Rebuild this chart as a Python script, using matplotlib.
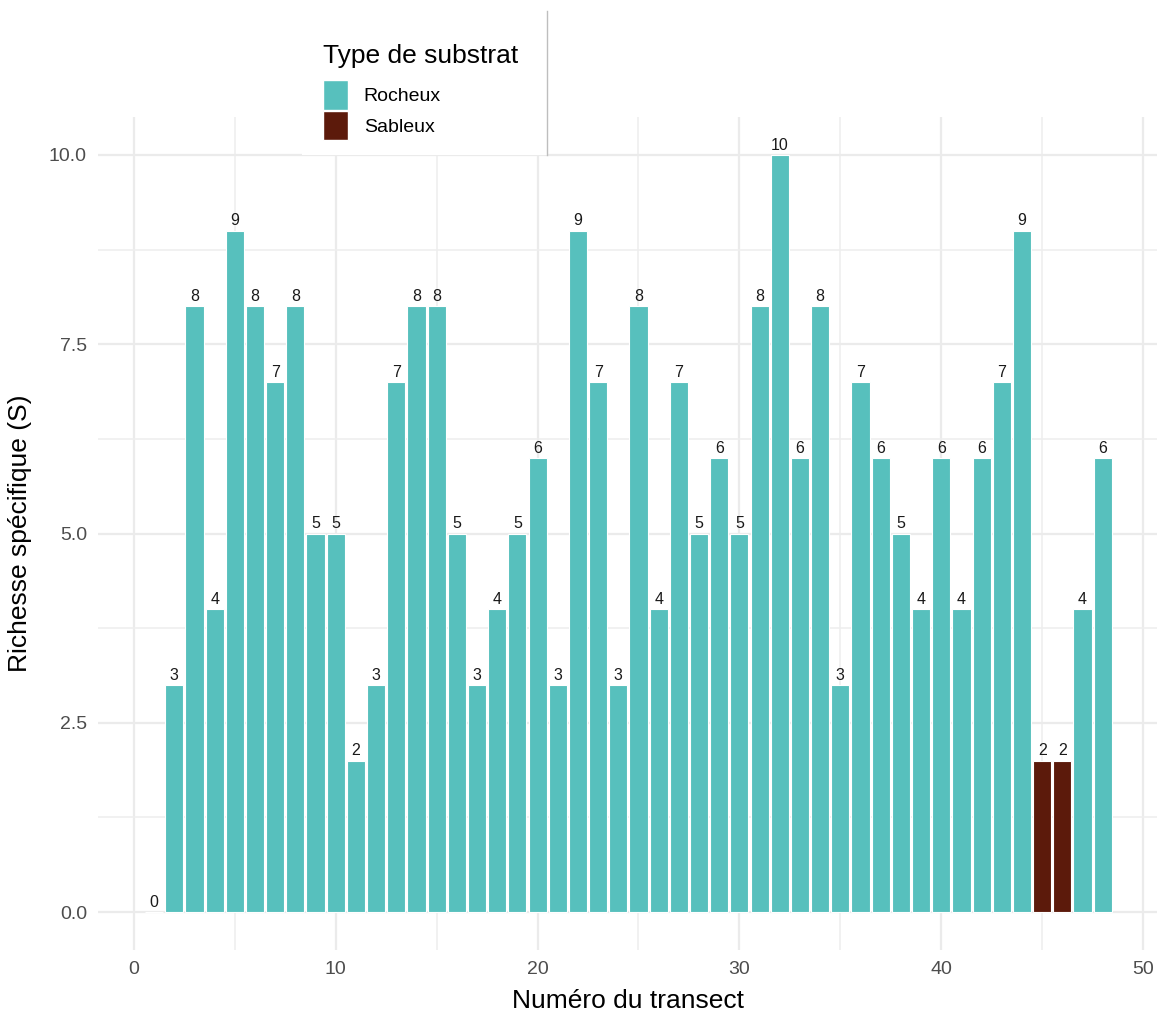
import numpy as np
import matplotlib
matplotlib.use('Agg')
import matplotlib.pyplot as plt
from matplotlib.patches import Patch, Rectangle
from matplotlib.lines import Line2D

plt.rcParams['font.family'] = ['Liberation Sans', 'DejaVu Sans']

transect = list(range(1, 49))
richesse = [0, 3, 8, 4, 9, 8, 7, 8, 5, 5,
            2, 3, 7, 8, 8, 5, 3, 4, 5, 6,
            3, 9, 7, 3, 8, 4, 7, 5, 6, 5,
            8, 10, 6, 8, 3, 7, 6, 5, 4, 6,
            4, 6, 7, 9, 2, 2, 4, 6]
substrat = ['Rocheux'] * 44 + ['Sableux'] * 2 + ['Rocheux'] * 2

couleurs = {'Rocheux': '#57C0BD', 'Sableux': '#5C1A0B'}

W, H = 1157, 1013
fig = plt.figure(figsize=(W / 100, H / 100), dpi=100)
ax = fig.add_axes([98 / W, 1 - 950 / H, 1 - 98 / W, (950 - 117) / H])

cols = [couleurs[s] for s in substrat]
ax.bar(transect, richesse, width=0.9, color=cols, edgecolor='white', linewidth=0.8, zorder=2)

for x, y in zip(transect, richesse):
    ax.text(x, y + 0.03, str(y), ha='center', va='bottom', fontsize=11.5, color='#1A1A1A', zorder=3)

ax.set_xlim(-1.78, 50.69)
ax.set_ylim(-0.5, 10.5)
ax.set_xticks([0, 10, 20, 30, 40, 50])
ax.set_xticks([5, 15, 25, 35, 45], minor=True)
ax.set_yticks([0, 2.5, 5, 7.5, 10])
ax.set_yticklabels(['0.0', '2.5', '5.0', '7.5', '10.0'])
ax.set_yticks([1.25, 3.75, 6.25, 8.75], minor=True)

ax.grid(which='major', color='#EBEBEB', linewidth=1.6, zorder=0)
ax.grid(which='minor', color='#EEEEEE', linewidth=1.1, zorder=0)
ax.set_axisbelow(True)
for s in ax.spines.values():
    s.set_visible(False)
ax.tick_params(which='both', length=0, labelsize=14, labelcolor='#4D4D4D', pad=8)

ax.set_xlabel('Numéro du transect', fontsize=19, labelpad=8)
ax.set_ylabel('Richesse spécifique (S)', fontsize=19, labelpad=12)

# fond blanc de la légende
fig.patches.append(Rectangle((302 / W, 1 - 155 / H), (547 - 302) / W, 145 / H,
                             transform=fig.transFigure, facecolor='white',
                             edgecolor='none', zorder=2))
fig.lines.append(Line2D([547 / W, 547 / W], [1 - 155 / H, 1 - 11 / H],
                        transform=fig.transFigure, color='#BEBEBE', linewidth=1, zorder=3))

handles = [Patch(facecolor=couleurs[k], edgecolor='white', label=k) for k in ['Rocheux', 'Sableux']]
leg = fig.legend(handles=handles, title='Type de substrat', loc='upper left',
                 bbox_to_anchor=(313 / W, 1 - 34 / H), frameon=False, fontsize=14,
                 title_fontsize=19, handlelength=1.29, handleheight=1.95,
                 handletextpad=0.82, labelspacing=0.05, borderpad=0)
leg._legend_box.align = 'left'
leg._legend_box.sep = 9
leg.set_zorder(4)

fig.savefig('out.png', dpi=100)
